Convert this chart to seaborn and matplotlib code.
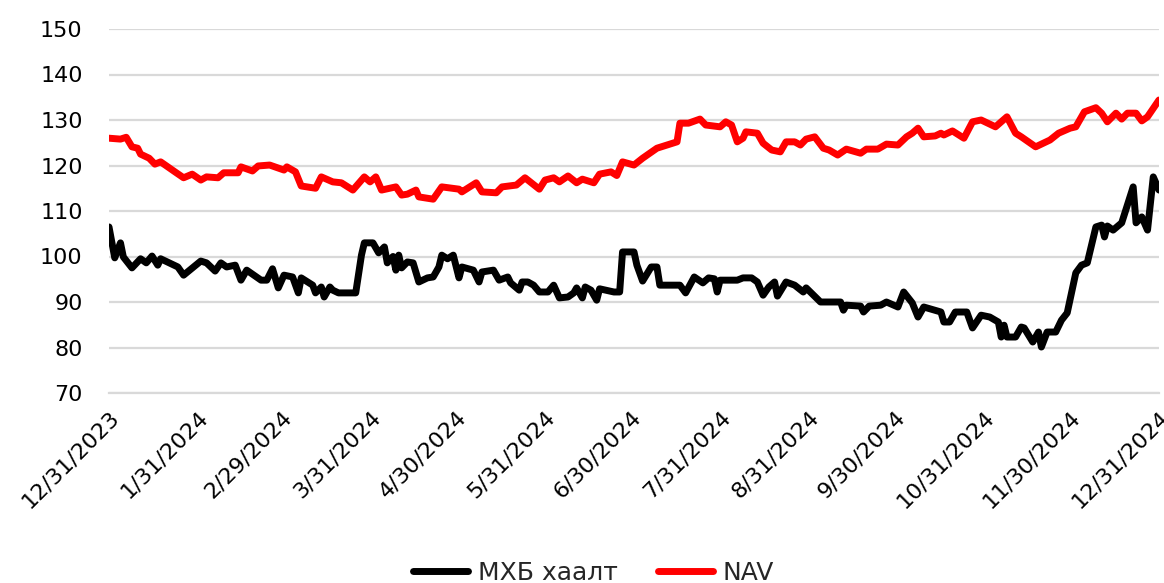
import numpy as np
import pandas as pd
import matplotlib
matplotlib.use("Agg")
import matplotlib.pyplot as plt
import seaborn as sns

# ---- data (days since 2023-12-31) ----
mhb_days = [0, 2, 4, 5, 8, 11, 13, 15, 17, 18, 24, 26, 32, 34, 37, 39, 41, 44, 46, 48,
            53, 55, 57, 59, 61, 64, 66, 67, 71, 72, 74, 75, 77, 78, 80, 86, 88, 89, 92, 94,
            96, 97, 99, 100, 101, 102, 104, 106, 108, 111, 113, 115, 116, 118, 120, 122, 123, 127, 129, 130,
            134, 136, 139, 140, 143, 144, 146, 148, 150, 153, 155, 157, 160, 162, 163, 165, 166, 168, 170, 171,
            176, 178, 179, 183, 184, 186, 189, 191, 192, 199, 201, 204, 207, 209, 211, 212, 213, 219, 221, 224,
            226, 228, 230, 232, 233, 236, 239, 242, 243, 248, 255, 256, 257, 262, 263, 265, 269, 271, 275, 277,
            280, 282, 284, 290, 291, 293, 295, 299, 301, 304, 307, 310, 311, 312, 313, 316, 318, 319, 322, 324,
            325, 327, 330, 332, 334, 337, 339, 341, 344, 346, 347, 348, 350, 353, 357, 358, 360, 362, 364, 366]
mhb_vals = [106.5, 99.7, 103.0, 99.9, 97.5, 99.5, 98.6, 100.1, 98.1, 99.5, 97.7, 95.9, 99.0, 98.6, 96.8, 98.6, 97.7, 98.1, 94.8, 97.0,
            94.8, 94.8, 97.3, 93.1, 95.9, 95.5, 92.0, 95.3, 93.7, 92.0, 93.3, 91.1, 93.3, 92.6, 92.0, 92.0, 100.3, 103.0, 103.0, 100.8,
            102.1, 98.6, 100.0, 97.0, 100.3, 97.5, 98.8, 98.6, 94.4, 95.3, 95.5, 97.7, 100.3, 99.5, 100.3, 95.3, 97.7, 97.0, 94.4, 96.6,
            97.0, 94.8, 95.5, 94.2, 92.6, 94.4, 94.4, 93.7, 92.2, 92.2, 93.7, 90.9, 91.1, 92.0, 93.1, 90.9, 93.3, 92.6, 90.4, 92.9,
            92.2, 92.2, 101.0, 101.0, 98.1, 94.6, 97.7, 97.7, 93.7, 93.7, 92.0, 95.5, 94.2, 95.3, 95.1, 92.2, 94.8, 94.8, 95.3, 95.3,
            94.4, 91.5, 93.3, 94.4, 91.3, 94.4, 93.7, 92.2, 93.1, 90.0, 90.0, 88.2, 89.3, 89.1, 87.8, 89.1, 89.3, 90.0, 88.9, 92.2,
            89.8, 86.7, 88.9, 87.8, 85.6, 85.6, 87.8, 87.8, 84.3, 87.1, 86.7, 85.6, 82.3, 84.9, 82.3, 82.3, 84.5, 84.3, 81.2, 83.4,
            80.1, 83.4, 83.4, 86.0, 87.6, 96.4, 98.1, 98.6, 106.5, 106.9, 104.3, 106.7, 105.8, 107.4, 115.3, 107.4, 108.7, 105.8, 117.5, 114.6]

nav_days = [0, 4, 6, 8, 10, 11, 14, 16, 18, 23, 26, 29, 32, 34, 38, 40, 45, 46, 50, 52,
            56, 61, 62, 65, 67, 72, 74, 78, 81, 85, 89, 91, 93, 95, 100, 102, 104, 107, 108, 113,
            116, 122, 123, 128, 130, 135, 137, 142, 145, 150, 152, 155, 157, 160, 163, 165, 169, 171, 175, 177,
            179, 183, 186, 191, 198, 199, 202, 206, 208, 213, 215, 217, 219, 221, 222, 226, 228, 231, 234, 236,
            239, 241, 243, 246, 249, 251, 254, 257, 262, 264, 268, 271, 275, 278, 280, 282, 284, 288, 290, 291,
            294, 298, 301, 304, 309, 313, 316, 318, 323, 328, 331, 335, 337, 340, 344, 346, 348, 351, 353, 355,
            358, 360, 362, 366]
nav_vals = [126.0, 125.8, 126.2, 124.1, 123.8, 122.5, 121.6, 120.3, 120.8, 118.6, 117.3, 118.1, 116.8, 117.5, 117.3, 118.4, 118.4, 119.7, 118.8, 119.9,
            120.1, 119.0, 119.7, 118.6, 115.5, 115.0, 117.5, 116.4, 116.2, 114.6, 117.5, 116.4, 117.5, 114.6, 115.3, 113.5, 113.7, 114.6, 113.1, 112.6,
            115.3, 114.8, 114.2, 116.2, 114.2, 114.0, 115.3, 115.7, 117.3, 114.8, 116.8, 117.3, 116.4, 117.7, 116.2, 117.0, 116.2, 118.1, 118.6, 117.8,
            120.8, 120.1, 121.6, 123.8, 125.2, 129.3, 129.3, 130.2, 128.9, 128.5, 129.6, 128.9, 125.2, 126.0, 127.4, 127.1, 124.9, 123.4, 123.0, 125.2,
            125.2, 124.5, 125.8, 126.3, 123.8, 123.4, 122.3, 123.6, 122.7, 123.6, 123.6, 124.7, 124.5, 126.3, 127.1, 128.2, 126.3, 126.5, 127.1, 126.7,
            127.6, 126.0, 129.6, 130.0, 128.5, 130.7, 127.1, 126.3, 124.1, 125.6, 127.1, 128.2, 128.5, 131.8, 132.7, 131.5, 129.6, 131.5, 130.2, 131.5,
            131.5, 129.8, 130.7, 134.4]

series_names = ["МХБ хаалт", "NAV"]
series_colors = ["#000000", "#ff0000"]
y_ticks = [70, 80, 90, 100, 110, 120, 130, 140, 150]
x_tick_labels = ["12/31/2023", "1/31/2024", "2/29/2024", "3/31/2024", "4/30/2024", "5/31/2024",
                 "6/30/2024", "7/31/2024", "8/31/2024", "9/30/2024", "10/31/2024", "11/30/2024", "12/31/2024"]

base = pd.Timestamp("2023-12-31")
df = pd.concat([
    pd.DataFrame({"date": base + pd.to_timedelta(mhb_days, unit="D"), "value": mhb_vals, "series": series_names[0]}),
    pd.DataFrame({"date": base + pd.to_timedelta(nav_days, unit="D"), "value": nav_vals, "series": series_names[1]}),
])

sns.set_theme(style="white")
plt.rcParams["font.family"] = ["DejaVu Sans"]

fig = plt.figure(figsize=(11.64, 5.83), dpi=100)
ax = fig.add_axes([109 / 1164, 1 - 393 / 583, (1159 - 109) / 1164, (393 - 29) / 583])

sns.lineplot(data=df, x="date", y="value", hue="series", hue_order=series_names,
             palette=dict(zip(series_names, series_colors)), linewidth=5.0, ax=ax,
             legend=True, zorder=3)

ax.set_ylim(70, 150)
ax.set_yticks(y_ticks)
ax.set_xlim(pd.Timestamp("2023-12-31"), pd.Timestamp("2024-12-31"))
tick_dates = pd.to_datetime(x_tick_labels, format="%m/%d/%Y")
ax.set_xticks(tick_dates)
ax.set_xticklabels(x_tick_labels, rotation=45, ha="right", rotation_mode="anchor")
ax.grid(axis="y", color="#d9d9d9", linewidth=1.6)
ax.grid(axis="x", visible=False)
for s in ["left", "right", "top"]:
    ax.spines[s].set_visible(False)
ax.spines["bottom"].set_color("#d9d9d9")
ax.spines["bottom"].set_linewidth(1.6)
ax.tick_params(axis="x", which="major", length=7, width=1.6, color="#d9d9d9",
               labelsize=16, pad=3, colors="#d9d9d9", labelcolor="#000000")
ax.tick_params(axis="y", length=0, labelsize=16, pad=19, labelcolor="#000000")
ax.set_xlabel("")
ax.set_ylabel("")

handles, labels = ax.get_legend_handles_labels()
ax.legend_.remove()
fig.legend(handles, labels, loc="center", bbox_to_anchor=(0.51, 0.018), ncol=2,
           frameon=False, fontsize=18, handlelength=2.2, columnspacing=1.6, handletextpad=0.4)

fig.savefig("out.png", dpi=100)
